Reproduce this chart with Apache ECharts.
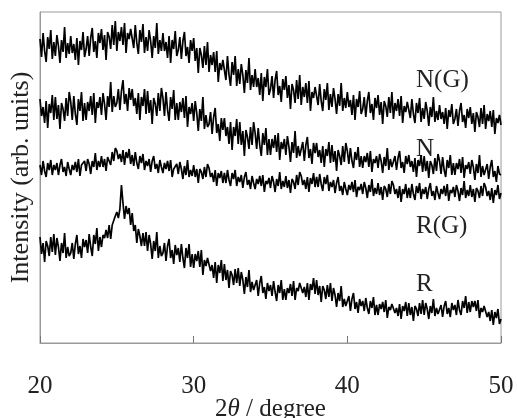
<!DOCTYPE html>
<html>
<head>
<meta charset="utf-8">
<script src="https://cdn.jsdelivr.net/npm/echarts@6/dist/echarts.min.js"></script>
<style>
html,body{margin:0;padding:0;background:#fff;}
#chart{width:517px;height:418px;}
</style>
</head>
<body>
<div id="chart"></div>
<script>
// 2θ runs from 20 to 50 in steps of 0.1 degree (301 samples per pattern)
const angleStart = 20;
const angleStep = 0.1;
const xTicks = [20, 30, 40, 50];
const seriesNames = ['N(G)', 'N', 'R(G)', 'R'];

// Intensity (arb. units, offset traces)
const intensityNG = [
304,286,310,292,281,306,294,313,284,301,
287,308,297,280,303,291,316,285,300,289,
307,290,299,283,305,278,302,293,311,286,
294,307,287,305,315,291,302,285,310,300,
314,293,308,283,311,306,294,318,298,322,
292,311,302,316,298,320,290,310,304,314,
313,295,318,300,289,313,301,319,290,306,
292,313,302,285,307,295,320,289,303,292,
310,292,301,285,307,280,303,294,312,287,
293,306,284,302,311,287,296,280,303,292,
305,282,295,270,295,288,275,297,278,301,
271,288,278,291,271,292,261,280,273,283,
282,263,287,268,257,281,268,287,257,274,
259,279,268,250,273,260,285,253,268,256,
274,256,265,248,270,242,266,256,274,248,
254,267,245,263,272,248,257,241,264,253,
267,245,258,234,259,253,240,263,244,268,
238,256,246,260,240,262,232,251,245,256,
254,238,259,242,232,254,243,260,233,249,
236,255,244,229,249,237,260,232,245,235,
251,236,243,228,248,223,244,236,252,229,
234,246,226,242,251,230,239,223,245,235,
248,228,241,219,242,237,226,246,230,251,
224,240,232,244,227,247,220,237,231,241,
239,225,244,229,220,240,230,245,221,235,
224,241,232,217,236,226,246,221,232,223,
238,224,231,219,235,214,233,226,239,219,
224,234,217,232,240,221,228,215,234,225,
236,219,230,211,231,226,216,235,219,238,
214,229,222,232,216,233,209,225,220,228,
218
];
const intensityN = [
244,227,236,220,242,215,239,230,248,223,
246,224,238,214,240,234,222,245,227,251,
241,223,247,229,218,244,232,251,222,240,
223,241,232,247,228,250,220,241,235,246,
228,250,239,223,247,236,261,231,247,236,
240,254,233,252,263,239,249,232,255,243,
254,237,245,229,250,223,246,237,254,229,
252,230,243,219,245,239,227,250,232,255,
245,227,251,233,222,246,234,253,223,240,
223,241,231,245,225,247,216,236,229,240,
222,242,230,212,234,222,246,214,228,216,
219,231,209,226,235,210,219,202,225,213,
225,207,216,199,221,193,216,207,224,199,
221,198,212,187,213,206,194,216,198,221,
210,194,215,198,187,210,198,215,188,204,
188,204,195,208,191,210,183,201,194,204,
188,207,196,181,201,190,212,185,197,187,
189,201,182,198,206,185,194,179,200,190,
200,186,193,180,197,176,194,187,201,180,
198,181,192,172,193,187,178,197,181,200,
192,179,195,182,175,191,183,196,176,187,
175,187,181,190,176,192,171,184,180,187,
175,189,182,170,186,177,195,173,184,176,
178,187,173,185,192,175,181,170,187,179,
188,176,182,171,185,166,183,177,188,171,
187,172,182,165,182,178,169,185,172,189,
182,169,186,173,166,183,175,188,168,180,
168,180,174,184,170,186,165,178,174,181,
169,183,176,163,179,170,188,166,177,168,
170,179,164,176,183,166,172,161,177,169,
168
];
const intensityRG = [
178,168,182,172,166,180,173,183,168,178,
173,180,168,178,184,171,176,167,181,174,
168,178,173,181,171,184,167,178,177,182,
172,184,179,169,182,176,190,173,182,176,
187,176,184,172,186,184,178,191,182,195,
192,184,189,181,193,178,191,185,194,179,
188,177,191,180,174,187,180,189,173,182,
177,184,171,182,187,174,179,170,183,176,
170,180,174,182,172,183,166,174,173,179,
169,181,174,164,177,168,183,166,173,167,
178,166,174,160,174,171,164,176,166,179,
175,166,170,161,173,157,170,165,172,160,
170,160,173,163,157,170,164,173,157,166,
161,168,155,166,171,158,163,154,167,160,
154,164,159,167,157,168,151,162,159,165,
155,167,161,151,164,157,171,154,162,156,
167,155,163,150,164,161,154,168,158,171,
167,158,163,154,166,151,165,159,170,156,
166,156,169,159,152,166,159,168,152,161,
156,163,150,160,166,152,157,148,161,154,
148,158,153,161,151,163,146,156,153,159,
149,161,155,145,158,151,164,147,155,149,
160,148,156,143,157,154,146,159,149,162,
158,149,154,145,157,141,154,149,159,145,
155,145,159,149,143,157,150,160,144,154,
149,156,144,154,160,147,152,143,157,150,
144,154,149,157,147,159,142,153,150,156,
146,158,152,142,155,148,162,145,153,147,
158,146,154,141,155,152,145,157,147,160,
156,147,152,143,155,140,153,148,158,144,
150
];
const intensityR = [
106,89,100,81,102,97,87,106,91,109,
88,105,96,82,100,90,110,85,96,87,
90,100,84,99,108,89,97,85,104,96,
103,90,109,96,87,108,99,115,92,106,
96,108,105,113,105,118,104,118,118,127,
131,125,134,158,140,124,137,129,135,118,
130,112,118,100,114,107,97,110,97,111,
92,108,99,84,102,92,111,85,97,87,
90,100,82,97,104,85,93,79,98,88,
95,81,99,85,75,95,85,99,76,89,
75,89,82,92,76,93,68,83,77,85,
87,72,78,65,81,60,78,70,83,62,
79,63,73,55,72,68,58,74,60,75,
57,71,63,49,66,56,73,51,61,53,
54,63,47,60,67,50,56,44,60,52,
58,47,62,51,42,58,50,63,43,54,
43,55,50,59,47,62,43,55,52,60,
61,50,56,46,60,43,59,53,65,49,
63,48,57,41,57,53,44,58,46,60,
42,55,48,36,50,42,57,36,44,37,
39,47,32,44,50,34,41,30,44,37,
42,32,45,35,29,42,35,46,28,38,
28,39,34,41,31,43,25,36,33,39,
40,30,35,27,39,24,37,32,41,27,
40,28,36,22,37,34,27,40,29,43,
28,40,34,24,37,30,44,27,35,29,
31,38,26,37,42,29,35,26,40,33,
38,28,43,33,28,42,35,47,30,41,
31,42,36,42,32,43,25,35,31,37,
37,26,31,22,33,18,31,25,34,19,
24
];

const seriesValues = [intensityNG, intensityN, intensityRG, intensityR];

function toPairs(vals) {
  return vals.map((v, i) => [+(angleStart + i * angleStep).toFixed(1), v]);
}

const FONT = '"Liberation Serif", "Times New Roman", serif';
const chart = echarts.init(document.getElementById('chart'), null, {renderer: 'canvas'});

const labelPos = [
  {name: 'N(G)', x: 416, y: 81},
  {name: 'N', x: 416, y: 150},
  {name: 'R(G)', x: 416, y: 227},
  {name: 'R', x: 416, y: 285}
];

chart.setOption({
  animation: false,
  backgroundColor: '#fff',
  grid: {left: 40, right: 16, top: 12, bottom: 75, show: true, borderColor: '#9a9a9a', borderWidth: 1,
    backgroundColor: 'transparent', containLabel: false, outerBoundsMode: 'none'},
  xAxis: {
    type: 'value', min: 20, max: 50, interval: 10,
    axisLine: {show: true, lineStyle: {color: '#9a9a9a', width: 1}},
    axisTick: {show: true, inside: true, length: 7, lineStyle: {color: '#777'}},
    axisLabel: {show: true, margin: 31, fontFamily: FONT, fontSize: 25, color: '#222'},
    splitLine: {show: false},
    name: '{n|2}{i|θ}{n| / degree}',
    nameLocation: 'middle', nameGap: 54, nameMoveOverlap: false,
    nameTextStyle: {rich: {
      n: {fontFamily: FONT, fontSize: 25, color: '#222'},
      i: {fontFamily: FONT, fontSize: 25, color: '#222', fontStyle: 'italic'}
    }}
  },
  yAxis: {
    type: 'value', min: 0, max: 331,
    axisLine: {show: true, lineStyle: {color: '#9a9a9a', width: 1}},
    axisTick: {show: false},
    axisLabel: {show: false},
    splitLine: {show: false},
    name: 'Intensity (arb. units)',
    nameLocation: 'middle', nameGap: 6,
    nameTextStyle: {fontFamily: FONT, fontSize: 26, color: '#222'}
  },
  series: seriesValues.map((vals, k) => ({
    name: seriesNames[k],
    type: 'line',
    data: toPairs(vals),
    showSymbol: false,
    symbol: 'none',
    sampling: null,
    lineStyle: {color: '#000', width: 1.7},
    z: 2
  })),
  graphic: labelPos.map(l => ({
    type: 'text', left: l.x, top: l.y - 13,
    style: {text: l.name, fontFamily: FONT, fontSize: 25, fill: '#222'}
  }))
});
</script>
</body>
</html>
